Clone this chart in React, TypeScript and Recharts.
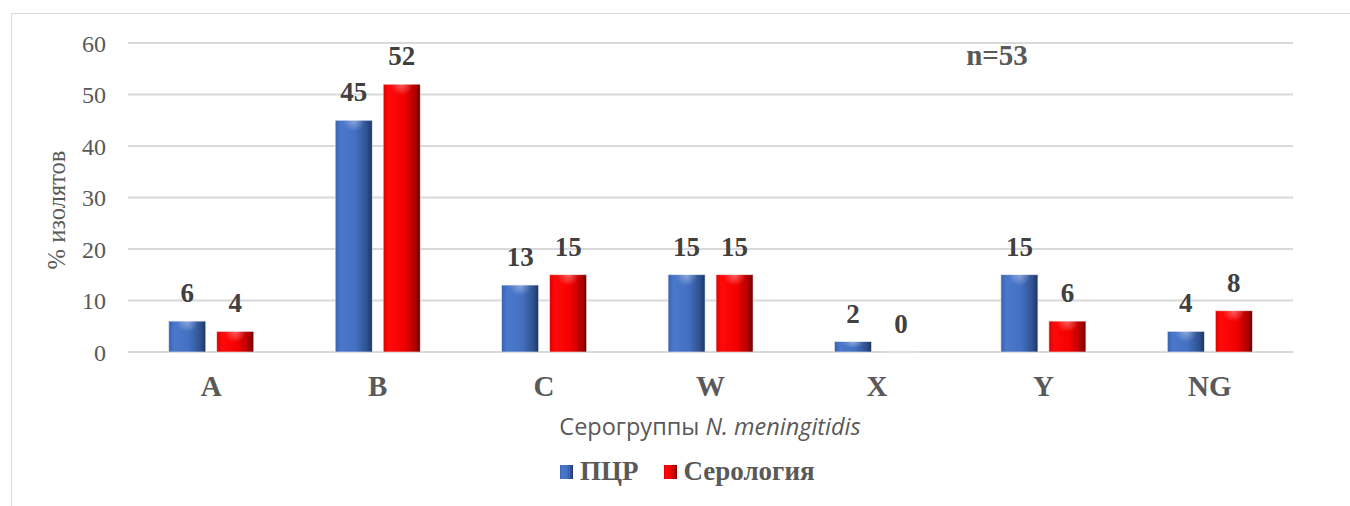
import React from 'react';
import { BarChart, Bar, XAxis, YAxis, CartesianGrid, LabelList, Legend, Customized } from 'recharts';

const groups = ['A', 'B', 'C', 'W', 'X', 'Y', 'NG'];
const pcr = [6, 45, 13, 15, 2, 15, 4];
const serology = [4, 52, 15, 15, 0, 6, 8];
const yTicks = [0, 10, 20, 30, 40, 50, 60];

const data = groups.map((g, i) => ({ group: g, pcr: pcr[i], serology: serology[i] }));

const serif = '"Liberation Serif", "Times New Roman", serif';
const gray = '#595959';

const legendItems = [
  { label: 'ПЦР', fill: 'url(#gBlue)' },
  { label: 'Серология', fill: 'url(#gRed)' },
];

function LegendBox() {
  return (
    <div style={{ display: 'flex', alignItems: 'center', gap: 25, fontFamily: serif, fontWeight: 'bold', fontSize: 27, lineHeight: '31px', color: gray }}>
      {legendItems.map((it) => (
        <div key={it.label} style={{ display: 'flex', alignItems: 'center', gap: 7 }}>
          <svg width={13} height={14} style={{ display: 'block' }}>
            <rect x={0} y={0} width={13} height={14} fill={it.fill} />
          </svg>
          <span>{it.label}</span>
        </div>
      ))}
    </div>
  );
}

// bar with a side shading and a soft highlight near its top
function ShadedBar(props: any) {
  const { x, y, width, height, fill } = props;
  if (!height || height <= 0) return null;
  const hl = Math.min(10, height / 2);
  return (
    <g>
      <rect x={x} y={y} width={width} height={height} fill={fill} stroke="#e8e8e8" strokeWidth={0.6} />
      <ellipse cx={x + width / 2} cy={y + 1} rx={width * 0.3} ry={hl} fill="url(#gHl)" />
    </g>
  );
}

function Titles() {
  return (
    <g>
      <text x={997} y={65} textAnchor="middle" fontFamily={serif} fontWeight="bold" fontSize={29} fill={gray}>
        n=53
      </text>
      <text x={56} y={210} transform="rotate(-90 56 210)" textAnchor="middle" dominantBaseline="central" fontFamily={serif} fontSize={24.5} fill={gray}>
        % изолятов
      </text>
      <text x={710} y={435} textAnchor="middle" fontFamily='"Open Sans", sans-serif' fontSize={23.5} fill={gray}>
        Серогруппы <tspan fontStyle="italic">N. meningitidis</tspan>
      </text>
    </g>
  );
}

const labelStyle = { fontFamily: serif, fontWeight: 'bold', fontSize: 27, fill: '#404040' };

export default function App() {
  return (
    <div style={{ position: 'absolute', left: 0, top: 0, width: 1350, height: 506, background: '#fff' }}>
      <div style={{ position: 'absolute', left: 11, top: 13, width: 1350, height: 506, borderLeft: '1.5px solid #d9d9d9', borderTop: '1.5px solid #d9d9d9' }} />
      <BarChart
        width={1350}
        height={506}
        data={data}
        margin={{ top: 43, right: 57, bottom: 124, left: 68 }}
        barCategoryGap="24.5%"
        barGap={11}
      >
        <defs>
          <linearGradient id="gBlue" x1="0" y1="0" x2="1" y2="0">
            <stop offset="0%" stopColor="#3a63b0" />
            <stop offset="15%" stopColor="#4a78cc" />
            <stop offset="55%" stopColor="#4470c2" />
            <stop offset="85%" stopColor="#2f5290" />
            <stop offset="100%" stopColor="#1c3563" />
          </linearGradient>
          <linearGradient id="gRed" x1="0" y1="0" x2="1" y2="0">
            <stop offset="0%" stopColor="#e00000" />
            <stop offset="15%" stopColor="#ff0a0a" />
            <stop offset="55%" stopColor="#f50000" />
            <stop offset="85%" stopColor="#b30000" />
            <stop offset="100%" stopColor="#6e0000" />
          </linearGradient>
          <radialGradient id="gHl">
            <stop offset="0%" stopColor="#ffffff" stopOpacity={0.35} />
            <stop offset="100%" stopColor="#ffffff" stopOpacity={0} />
          </radialGradient>
        </defs>
        <CartesianGrid vertical={false} stroke="#d9d9d9" strokeWidth={1.8} />
        <XAxis
          dataKey="group"
          height={30}
          axisLine={false}
          tickLine={false}
          tickSize={0}
          tickMargin={23}
          tick={{ fontFamily: serif, fontWeight: 'bold', fontSize: 29, fill: gray }}
        />
        <YAxis
          width={60}
          domain={[0, 60]}
          ticks={yTicks}
          axisLine={false}
          tickLine={false}
          tickSize={0}
          tickMargin={22}
          tick={{ fontFamily: serif, fontSize: 24, fill: gray }}
        />
        <Legend
          layout="horizontal"
          verticalAlign="middle"
          align="center"
          wrapperStyle={{ top: 456, left: 560, width: 400 }}
          content={() => <LegendBox />}
        />
        <Bar dataKey="pcr" name="ПЦР" fill="url(#gBlue)" shape={<ShadedBar />} minPointSize={0.01} isAnimationActive={false}>
          <LabelList dataKey="pcr" position="top" offset={19} style={labelStyle} />
        </Bar>
        <Bar dataKey="serology" name="Серология" fill="url(#gRed)" shape={<ShadedBar />} minPointSize={0.01} isAnimationActive={false}>
          <LabelList dataKey="serology" position="top" offset={19} style={labelStyle} />
        </Bar>
        <Customized component={Titles} />
      </BarChart>
    </div>
  );
}
